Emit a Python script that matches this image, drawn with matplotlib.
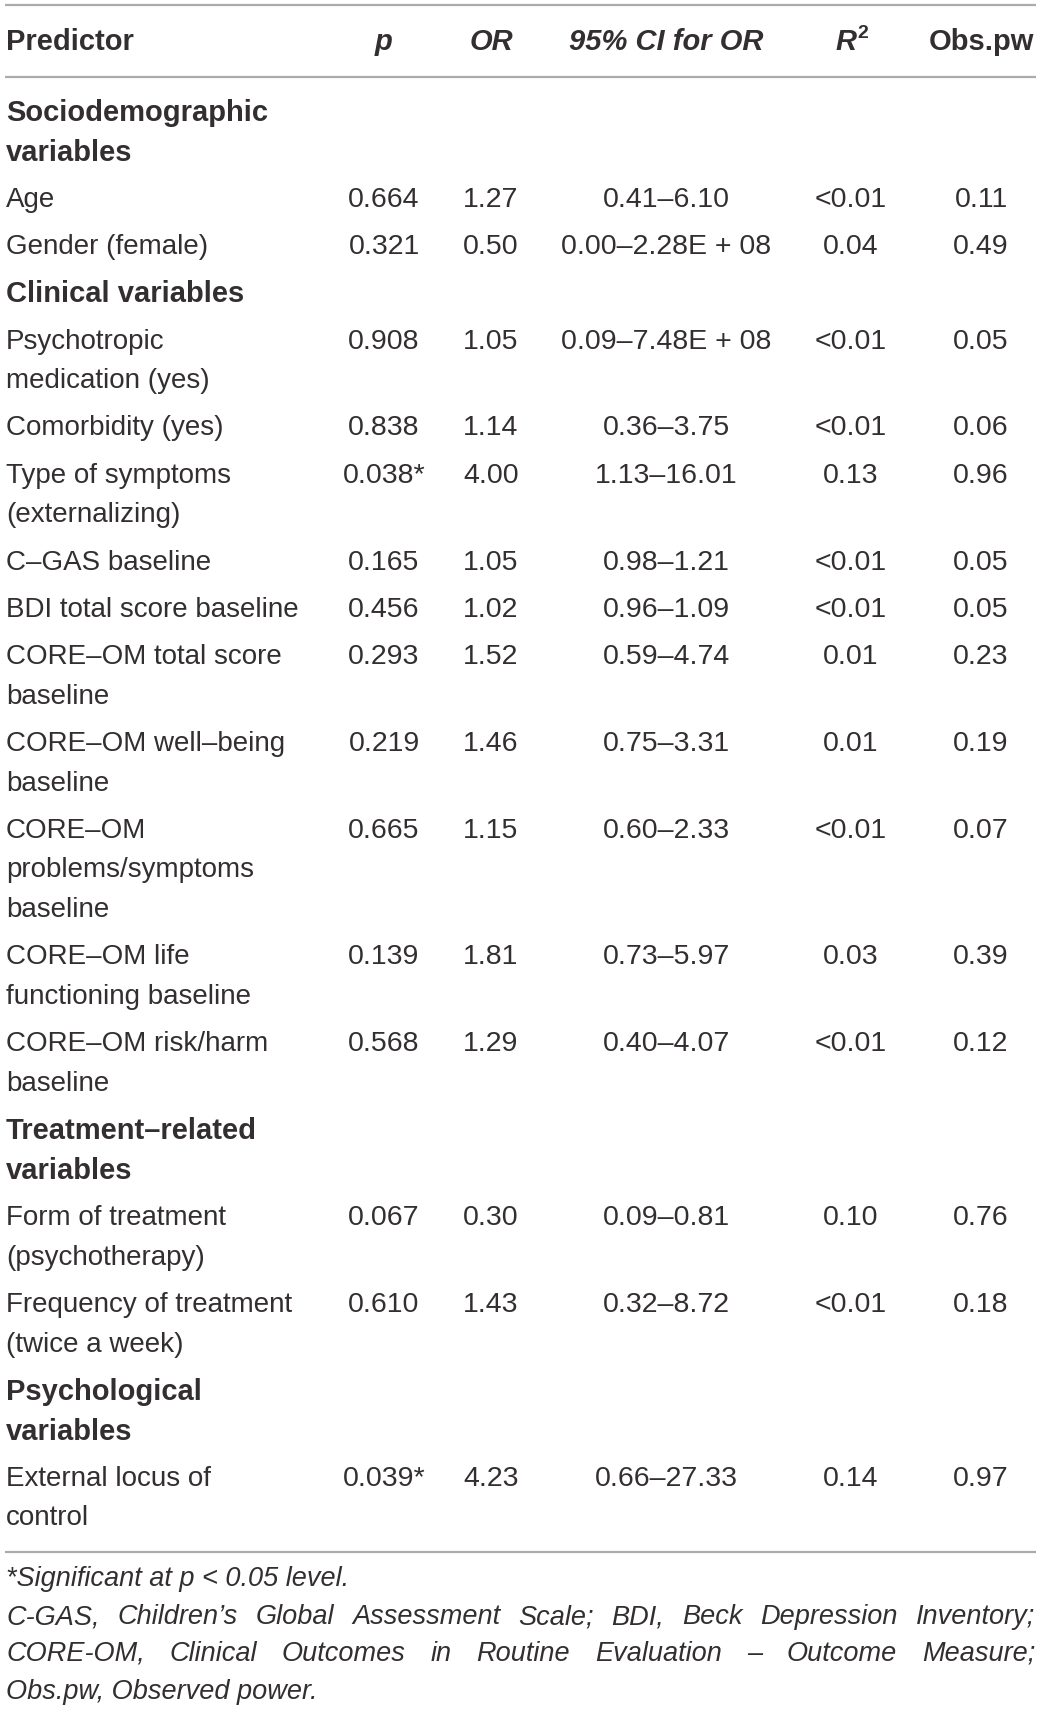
import matplotlib
matplotlib.use("Agg")
import matplotlib.pyplot as plt

# table content
predictor = ["Sociodemographic\nvariables", "Age", "Gender (female)", "Clinical variables",
             "Psychotropic\nmedication (yes)", "Comorbidity (yes)", "Type of symptoms\n(externalizing)",
             "C–GAS baseline", "BDI total score baseline", "CORE–OM total score\nbaseline",
             "CORE–OM well–being\nbaseline", "CORE–OM\nproblems/symptoms\nbaseline",
             "CORE–OM life\nfunctioning baseline", "CORE–OM risk/harm\nbaseline",
             "Treatment–related\nvariables", "Form of treatment\n(psychotherapy)",
             "Frequency of treatment\n(twice a week)", "Psychological\nvariables",
             "External locus of\ncontrol"]
is_group = [True, False, False, True, False, False, False, False, False, False,
            False, False, False, False, True, False, False, True, False]
p_vals = ["", "0.664", "0.321", "", "0.908", "0.838", "0.038*", "0.165", "0.456", "0.293",
          "0.219", "0.665", "0.139", "0.568", "", "0.067", "0.610", "", "0.039*"]
or_vals = ["", "1.27", "0.50", "", "1.05", "1.14", "4.00", "1.05", "1.02", "1.52",
           "1.46", "1.15", "1.81", "1.29", "", "0.30", "1.43", "", "4.23"]
ci_vals = ["", "0.41–6.10", "0.00–2.28E + 08", "", "0.09–7.48E + 08", "0.36–3.75",
           "1.13–16.01", "0.98–1.21", "0.96–1.09", "0.59–4.74", "0.75–3.31", "0.60–2.33",
           "0.73–5.97", "0.40–4.07", "", "0.09–0.81", "0.32–8.72", "", "0.66–27.33"]
r2_vals = ["", "<0.01", "0.04", "", "<0.01", "<0.01", "0.13", "<0.01", "<0.01", "0.01",
           "0.01", "<0.01", "0.03", "<0.01", "", "0.10", "<0.01", "", "0.14"]
obs_vals = ["", "0.11", "0.49", "", "0.05", "0.06", "0.96", "0.05", "0.05", "0.23",
            "0.19", "0.07", "0.39", "0.12", "", "0.76", "0.18", "", "0.97"]

footnotes = ["*Significant at p < 0.05 level.",
             "C-GAS, Children’s Global Assessment Scale; BDI, Beck Depression Inventory;",
             "CORE-OM, Clinical Outcomes in Routine Evaluation – Outcome Measure;",
             "Obs.pw, Observed power."]
justify = [False, True, True, False]

W, H = 1040, 1712
FONT = "Liberation Sans"
TXT = "#332f30"
LINE = "#ababab"
FS = 20
FS_B = 21
FS_NUM = 20.5

fig = plt.figure(figsize=(W / 100, H / 100), dpi=100)
ax = fig.add_axes([0, 0, 1, 1])
ax.set_xlim(0, W)
ax.set_ylim(H, 0)
ax.axis("off")

left, right = 6, 1035
col_x = [384, 491, 666, 851, 981]

# rules
for y in (5, 77, 1552):
    ax.plot([5, 1036], [y, y], color=LINE, lw=1.6, solid_capstyle="butt")

# header
hy = 42
hkw = dict(fontsize=FS_B, fontweight="bold", family=FONT, color=TXT, va="center")
ax.text(left, hy, "Predictor", **hkw)
ax.text(col_x[0], hy, "p", style="italic", ha="center", **hkw)
ax.text(col_x[1], hy, "OR", style="italic", ha="center", **hkw)
ax.text(col_x[2], hy, "95% CI for OR", style="italic", ha="center", **hkw)
ax.text(col_x[3] + 5, hy, "R", style="italic", ha="right", **hkw)
ax.text(col_x[3] + 6, hy - 9, "2", fontsize=14, fontweight="bold", family=FONT, color=TXT,
        va="center", ha="left")
ax.text(col_x[4], hy, "Obs.pw", ha="center", **hkw)

# body
line_step = 39.7
row_step = 47.2
y = 113
for i, lab in enumerate(predictor):
    lines = lab.split("\n")
    for k, ln in enumerate(lines):
        if is_group[i]:
            ax.text(left, y + k * line_step, ln, fontsize=FS_B, fontweight="bold",
                    family=FONT, color=TXT, va="center")
        else:
            ax.text(left, y + k * line_step, ln, fontsize=FS, family=FONT,
                    color=TXT, va="center")
    for cx, vals in zip(col_x, [p_vals, or_vals, ci_vals, r2_vals, obs_vals]):
        if vals[i]:
            ax.text(cx, y, vals[i], fontsize=FS_NUM, family=FONT,
                    color=TXT, va="center", ha="center")
    y += row_step + (len(lines) - 1) * line_step

# footnotes
fig.canvas.draw()
rend = fig.canvas.get_renderer()
fy = [1579, 1617, 1654, 1692]
for txt, jf, yy in zip(footnotes, justify, fy):
    kw = dict(fontsize=19.5, style="italic", family=FONT, color=TXT, va="center")
    if not jf:
        ax.text(left, yy, txt, **kw)
        continue
    words = txt.split(" ")
    arts = [ax.text(0, yy, wd, **kw) for wd in words]
    widths = [a.get_window_extent(rend).width for a in arts]
    gap = (right - left - sum(widths)) / (len(words) - 1)
    x = left
    for a, wd in zip(arts, widths):
        a.set_x(x)
        x += wd + gap

fig.savefig("out.png", dpi=100, facecolor="white")
